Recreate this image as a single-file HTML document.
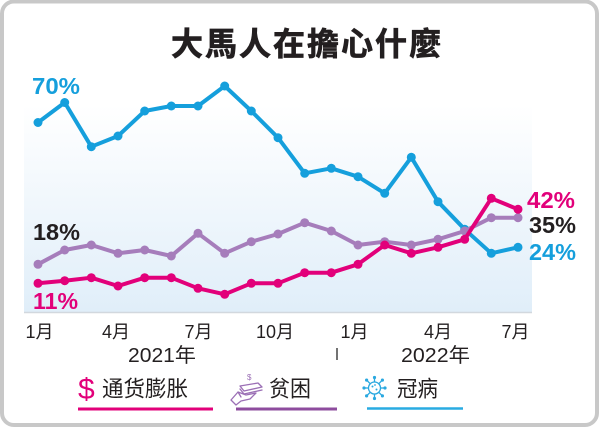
<!DOCTYPE html>
<html>
<head>
<meta charset="utf-8">
<style>
  html,body{margin:0;padding:0;background:#fff;}
  svg{display:block;}
  .cjk{font-family:"Liberation Sans","Noto Sans CJK SC",sans-serif;}
</style>
</head>
<body>
<svg width="600" height="430" viewBox="0 0 600 430" xmlns="http://www.w3.org/2000/svg">
  <defs>
    <linearGradient id="bg" x1="0" y1="0" x2="0" y2="1">
      <stop offset="0" stop-color="#ffffff"/>
      <stop offset="1" stop-color="#e0eef9"/>
    </linearGradient>
  </defs>
  <rect x="0" y="0" width="600" height="430" fill="#fff"/>
  <rect x="2" y="1.5" width="595" height="423.5" rx="12" ry="12" fill="#fff" stroke="#c8c8c8" stroke-width="4"/>

  <!-- chart background -->
  <rect x="24" y="105" width="508" height="207" fill="url(#bg)"/>
  <line x1="24" y1="312.5" x2="532" y2="312.5" stroke="#d2d8de" stroke-width="1.5"/>

  <!-- title -->
  <text x="171" y="55" font-size="32" font-weight="bold" fill="#231f20" stroke="#231f20" stroke-width="0.7" textLength="270" lengthAdjust="spacing" style="font-family:'Liberation Sans','Noto Sans CJK TC',sans-serif">大馬人在擔心什麼</text>

  <!-- blue series -->
  <g fill="#159fdc" stroke="none">
    <polyline fill="none" stroke="#159fdc" stroke-width="4" stroke-linejoin="round" stroke-linecap="round"
      points="38,122.5 64.7,102.5 91.3,146.7 118,136 144.7,111 171.3,106 198,106 224.7,86 251.3,111 278,137.7 304.7,173.3 331.3,168.3 358,176.7 384.7,193.3 411.3,157.3 438,201.7 464.7,229.3 491.3,253.3 518,247.3"/>
    <circle cx="38" cy="122.5" r="4.5"/><circle cx="64.7" cy="102.5" r="4.5"/><circle cx="91.3" cy="146.7" r="4.5"/><circle cx="118" cy="136" r="4.5"/><circle cx="144.7" cy="111" r="4.5"/><circle cx="171.3" cy="106" r="4.5"/><circle cx="198" cy="106" r="4.5"/><circle cx="224.7" cy="86" r="4.5"/><circle cx="251.3" cy="111" r="4.5"/><circle cx="278" cy="137.7" r="4.5"/><circle cx="304.7" cy="173.3" r="4.5"/><circle cx="331.3" cy="168.3" r="4.5"/><circle cx="358" cy="176.7" r="4.5"/><circle cx="384.7" cy="193.3" r="4.5"/><circle cx="411.3" cy="157.3" r="4.5"/><circle cx="438" cy="201.7" r="4.5"/><circle cx="464.7" cy="229.3" r="4.5"/><circle cx="491.3" cy="253.3" r="4.5"/><circle cx="518" cy="247.3" r="4.5"/>
  </g>

  <!-- purple series -->
  <g fill="#a67dbb" stroke="none">
    <polyline fill="none" stroke="#a67dbb" stroke-width="4" stroke-linejoin="round" stroke-linecap="round"
      points="38,264.3 64.7,250 91.3,245 118,253.3 144.7,250 171.3,256 198,233.3 224.7,253.3 251.3,241.7 278,234 304.7,222.7 331.3,231 358,245 384.7,241.7 411.3,245 438,239.3 464.7,231 491.3,217.7 518,217.7"/>
    <circle cx="38" cy="264.3" r="4.5"/><circle cx="64.7" cy="250" r="4.5"/><circle cx="91.3" cy="245" r="4.5"/><circle cx="118" cy="253.3" r="4.5"/><circle cx="144.7" cy="250" r="4.5"/><circle cx="171.3" cy="256" r="4.5"/><circle cx="198" cy="233.3" r="4.5"/><circle cx="224.7" cy="253.3" r="4.5"/><circle cx="251.3" cy="241.7" r="4.5"/><circle cx="278" cy="234" r="4.5"/><circle cx="304.7" cy="222.7" r="4.5"/><circle cx="331.3" cy="231" r="4.5"/><circle cx="358" cy="245" r="4.5"/><circle cx="384.7" cy="241.7" r="4.5"/><circle cx="411.3" cy="245" r="4.5"/><circle cx="438" cy="239.3" r="4.5"/><circle cx="464.7" cy="231" r="4.5"/><circle cx="491.3" cy="217.7" r="4.5"/><circle cx="518" cy="217.7" r="4.5"/>
  </g>

  <!-- pink series -->
  <g fill="#e2007a" stroke="none">
    <polyline fill="none" stroke="#e2007a" stroke-width="4" stroke-linejoin="round" stroke-linecap="round"
      points="38,283.3 64.7,280.7 91.3,277.7 118,286 144.7,277.7 171.3,277.7 198,288.3 224.7,294.3 251.3,283.3 278,283.3 304.7,272.7 331.3,272.7 358,264.3 384.7,245 411.3,253.3 438,247.3 464.7,239.3 491.3,198.3 518,209.3"/>
    <circle cx="38" cy="283.3" r="4.5"/><circle cx="64.7" cy="280.7" r="4.5"/><circle cx="91.3" cy="277.7" r="4.5"/><circle cx="118" cy="286" r="4.5"/><circle cx="144.7" cy="277.7" r="4.5"/><circle cx="171.3" cy="277.7" r="4.5"/><circle cx="198" cy="288.3" r="4.5"/><circle cx="224.7" cy="294.3" r="4.5"/><circle cx="251.3" cy="283.3" r="4.5"/><circle cx="278" cy="283.3" r="4.5"/><circle cx="304.7" cy="272.7" r="4.5"/><circle cx="331.3" cy="272.7" r="4.5"/><circle cx="358" cy="264.3" r="4.5"/><circle cx="384.7" cy="245" r="4.5"/><circle cx="411.3" cy="253.3" r="4.5"/><circle cx="438" cy="247.3" r="4.5"/><circle cx="464.7" cy="239.3" r="4.5"/><circle cx="491.3" cy="198.3" r="4.5"/><circle cx="518" cy="209.3" r="4.5"/>
  </g>

  <!-- value labels -->
  <g font-family="'Liberation Sans', sans-serif" font-weight="bold" font-size="23">
    <text x="32" y="94" fill="#159fdc" textLength="48" lengthAdjust="spacingAndGlyphs">70%</text>
    <text x="33" y="240" fill="#231f20" textLength="47" lengthAdjust="spacingAndGlyphs">18%</text>
    <text x="33" y="309" fill="#e2007a" textLength="45" lengthAdjust="spacingAndGlyphs">11%</text>
    <text x="527" y="208" fill="#e2007a" textLength="48" lengthAdjust="spacingAndGlyphs">42%</text>
    <text x="529" y="233" fill="#231f20" textLength="47" lengthAdjust="spacingAndGlyphs">35%</text>
    <text x="529" y="260" fill="#159fdc" textLength="47" lengthAdjust="spacingAndGlyphs">24%</text>
  </g>

  <!-- x axis labels -->
  <g class="cjk" font-size="18" fill="#231f20" text-anchor="middle">
    <text x="39.5" y="338">1月</text>
    <text x="116" y="338">4月</text>
    <text x="198.5" y="338">7月</text>
    <text x="275" y="338">10月</text>
    <text x="354.5" y="338">1月</text>
    <text x="438" y="338">4月</text>
    <text x="515.5" y="338">7月</text>
  </g>
  <g class="cjk" font-size="20" fill="#231f20">
    <text x="128" y="362" textLength="68" lengthAdjust="spacingAndGlyphs">2021年</text>
    <text x="401" y="362" textLength="69" lengthAdjust="spacingAndGlyphs">2022年</text>
  </g>
  <line x1="337" y1="348" x2="337" y2="360" stroke="#444" stroke-width="1.5"/>

  <!-- legend -->
  <text x="78" y="399" font-family="'Liberation Sans', sans-serif" font-size="30" fill="#e2007a">$</text>
  <text x="102" y="396.5" class="cjk" font-size="22" fill="#231f20" textLength="86" lengthAdjust="spacingAndGlyphs">通货膨胀</text>
  <line x1="78" y1="409" x2="213" y2="409" stroke="#e2007a" stroke-width="3"/>

  <!-- hand with money icon -->
  <g fill="none" stroke="#9b6fb5" stroke-width="1.3" stroke-linejoin="round" stroke-linecap="round">
    <path d="M240,386 L258,383 L262,387 L244,391 Z"/>
    <path d="M240,389 L244,394 L262,390"/>
    <path d="M231,400 L238,392 L246,395 L256,393 L250,399 L241,401 L236,405 Z"/>
    <path d="M238,392 L241,397"/>
  </g>
  <text x="247" y="380" font-family="'Liberation Sans', sans-serif" font-size="8" fill="#9b6fb5">$</text>
  <text x="269" y="396.5" class="cjk" font-size="22" fill="#231f20" textLength="42" lengthAdjust="spacingAndGlyphs">贫困</text>
  <line x1="236" y1="409" x2="337" y2="409" stroke="#8e4c9e" stroke-width="3"/>

  <!-- virus icon -->
  <g stroke="#29a8e0" stroke-width="1.3" fill="none">
    <circle cx="374.5" cy="388" r="6"/>
    <line x1="374.5" y1="382" x2="374.5" y2="378"/>
    <line x1="374.5" y1="394" x2="374.5" y2="398"/>
    <line x1="368.5" y1="388" x2="364.5" y2="388"/>
    <line x1="380.5" y1="388" x2="384.5" y2="388"/>
    <line x1="370.3" y1="383.8" x2="367" y2="380.5"/>
    <line x1="378.7" y1="383.8" x2="382" y2="380.5"/>
    <line x1="370.3" y1="392.2" x2="367" y2="395.5"/>
    <line x1="378.7" y1="392.2" x2="382" y2="395.5"/>
  </g>
  <g fill="#29a8e0">
    <circle cx="374.5" cy="377.5" r="1.6"/><circle cx="374.5" cy="398.5" r="1.6"/>
    <circle cx="364" cy="388" r="1.6"/><circle cx="385" cy="388" r="1.6"/>
    <circle cx="366.6" cy="380.1" r="1.6"/><circle cx="382.4" cy="380.1" r="1.6"/>
    <circle cx="366.6" cy="395.9" r="1.6"/><circle cx="382.4" cy="395.9" r="1.6"/>
    <circle cx="372.5" cy="386.5" r="1"/><circle cx="376.5" cy="389.5" r="1"/><circle cx="375" cy="385" r="0.9"/>
  </g>
  <text x="397" y="396.5" class="cjk" font-size="22" fill="#231f20" textLength="41" lengthAdjust="spacingAndGlyphs">冠病</text>
  <line x1="367" y1="408.5" x2="463" y2="408.5" stroke="#29abe2" stroke-width="2.5"/>
</svg>
</body>
</html>
